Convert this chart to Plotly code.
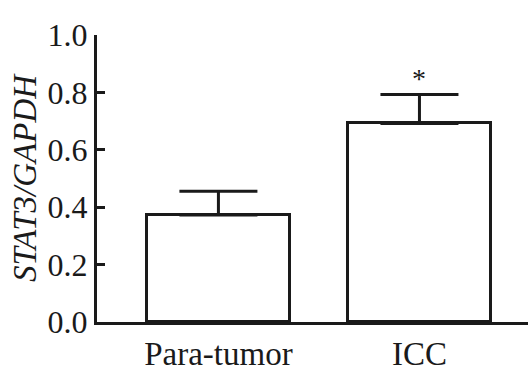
import plotly.graph_objects as go

categories = ["Para-tumor", "ICC"]
values = [0.373, 0.692]
errors = [0.083, 0.101]
y_ticks = [0.0, 0.2, 0.4, 0.6, 0.8, 1.0]
y_tick_labels = ["0.0", "0.2", "0.4", "0.6", "0.8", "1.0"]
sig_marks = ["", "*"]
sig_y = [0.85, 0.85]

FONT = "'Liberation Serif', 'Times New Roman', serif"

fig = go.Figure()
fig.add_trace(go.Bar(
    x=[0, 1], y=values, width=0.711,
    marker=dict(color="white", line=dict(color="#1a1a1a", width=3)),
    error_y=dict(type="data", symmetric=False, array=errors,
                 arrayminus=[0, 0], color="#1a1a1a", thickness=3, width=39),
    showlegend=False,
))
for i, (m, yy) in enumerate(zip(sig_marks, sig_y)):
    if m:
        fig.add_annotation(x=i, y=yy, text=m, showarrow=False,
                           font=dict(family=FONT, size=28, color="#1a1a1a"))

fig.update_layout(
    width=531, height=391,
    margin=dict(l=97, r=3, t=35, b=69),
    paper_bgcolor="white", plot_bgcolor="white",
    font=dict(family=FONT, color="#1a1a1a"),
    xaxis=dict(
        range=[-0.604, 1.54], tickvals=[0, 1], ticktext=categories,
        showline=True, linecolor="#1a1a1a", linewidth=3,
        ticks="", showgrid=False, zeroline=False, automargin=False,
        tickfont=dict(family=FONT, size=33, color="#1a1a1a"),
    ),
    yaxis=dict(
        range=[0, 1.0], tickvals=y_ticks, ticktext=y_tick_labels,
        showline=True, linecolor="#1a1a1a", linewidth=3,
        ticks="inside", ticklen=8, tickwidth=3, tickcolor="#1a1a1a",
        showgrid=False, zeroline=False, automargin=False,
        tickfont=dict(family=FONT, size=32, color="#1a1a1a"),
        title=dict(text="STAT3/GAPDH", standoff=2,
                   font=dict(family=FONT, size=33, color="#1a1a1a",
                             style="italic")),
    ),
    bargap=0,
)

fig.write_html("out.html", config={"displayModeBar": False},
               post_script="document.body.style.margin='0';")
